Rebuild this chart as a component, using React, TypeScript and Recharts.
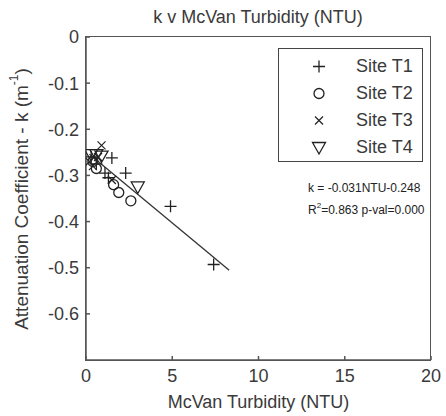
import React from 'react';
import { ScatterChart, Scatter, XAxis, YAxis, Legend } from 'recharts';

const siteT1 = [
  { x: 0.3, y: -0.26 }, { x: 0.6, y: -0.275 }, { x: 1.5, y: -0.262 }, { x: 1.1, y: -0.295 },
  { x: 1.3, y: -0.305 }, { x: 2.3, y: -0.295 }, { x: 4.9, y: -0.367 }, { x: 7.4, y: -0.493 },
];
const siteT2 = [
  { x: 0.4, y: -0.27 }, { x: 0.6, y: -0.285 }, { x: 1.6, y: -0.32 }, { x: 1.9, y: -0.337 }, { x: 2.6, y: -0.355 },
];
const siteT3 = [
  { x: 0.9, y: -0.235 }, { x: 0.4, y: -0.28 }, { x: 0.2, y: -0.27 }, { x: 1.5, y: -0.31 }, { x: 0.7, y: -0.26 },
];
const siteT4 = [
  { x: 0.3, y: -0.255 }, { x: 0.6, y: -0.255 }, { x: 0.9, y: -0.258 }, { x: 3.0, y: -0.325 },
];
const fitSlope = -0.031;
const fitIntercept = -0.248;
const fitRange = [0.2, 8.3];
const fitLine = fitRange.map((x) => ({ x, y: fitSlope * x + fitIntercept }));

const xDomain = [0, 20];
const yDomain = [-0.7, 0];
const xTicks = [0, 5, 10, 15, 20];
const yTicks = [0, -0.1, -0.2, -0.3, -0.4, -0.5, -0.6];
const seriesNames = ['Site T1', 'Site T2', 'Site T3', 'Site T4'];

const FONT = '"Liberation Sans", Arial, sans-serif';
const INK = '#222';
const AXIS = '#555';
const TXT = '#3a3a3a';

const Plus = ({ cx, cy }: any) => (
  <path d={`M${cx - 6},${cy}H${cx + 6}M${cx},${cy - 6}V${cy + 6}`} stroke={INK} strokeWidth={1.3} fill="none" />
);
const Circ = ({ cx, cy }: any) => <circle cx={cx} cy={cy} r={5} stroke={INK} strokeWidth={1.3} fill="none" />;
const Cross = ({ cx, cy }: any) => (
  <path d={`M${cx - 4},${cy - 4}L${cx + 4},${cy + 4}M${cx - 4},${cy + 4}L${cx + 4},${cy - 4}`} stroke={INK} strokeWidth={1.2} fill="none" />
);
const Tri = ({ cx, cy }: any) => (
  <path d={`M${cx - 6.5},${cy - 5}H${cx + 6.5}L${cx},${cy + 6.5}Z`} stroke={INK} strokeWidth={1.3} fill="none" />
);
const NoShape = () => null;

const markers = [Plus, Circ, Cross, Tri];

const LegendBox = () => (
  <div
    style={{
      position: 'absolute', left: 278, top: 48, width: 143, height: 112,
      border: '1.5px solid #444', background: '#fff', fontFamily: FONT, fontSize: 18, color: TXT,
    }}
  >
    {seriesNames.map((name, i) => {
      const M = markers[i];
      return (
        <div key={name} style={{ position: 'absolute', left: 0, top: 4 + i * 27, height: 27, width: 143 }}>
          <svg width={30} height={27} style={{ position: 'absolute', left: 25, top: 0 }}>
            <M cx={15} cy={13.5} />
          </svg>
          <span style={{ position: 'absolute', left: 77, top: 3, lineHeight: '20px' }}>{name}</span>
        </div>
      );
    })}
  </div>
);

const YLabel = () => {
  const cy = 199;
  const cx = 21;
  return (
    <text x={cx} y={cy} transform={`rotate(-90 ${cx} ${cy})`} textAnchor="middle" dominantBaseline="central"
      style={{ fontFamily: FONT, fontSize: 19, fill: TXT }}>
      Attenuation Coefficient - k (m<tspan dy={-7} fontSize={12}>-1</tspan><tspan dy={7}>)</tspan>
    </text>
  );
};

export default function App() {
  const tickStyle = { fontFamily: FONT, fontSize: 18, fill: TXT };
  return (
    <div style={{ position: 'absolute', left: 0, top: 0, width: 446, height: 416, background: '#fff' }}>
      <ScatterChart width={446} height={416} margin={{ top: 37, right: 15, left: 0, bottom: 0 }}>
        <XAxis type="number" dataKey="x" domain={xDomain} ticks={xTicks} allowDataOverflow
          height={56} tickSize={-4} tickMargin={13} stroke={AXIS} strokeWidth={1.5} tick={tickStyle}
          label={{ value: 'McVan Turbidity (NTU)', position: 'insideBottom', offset: 8, style: { fontFamily: FONT, fontSize: 18, fill: TXT } }} />
        <YAxis type="number" dataKey="y" domain={yDomain} ticks={yTicks} allowDataOverflow
          width={86} tickSize={-4} tickMargin={11} stroke={AXIS} strokeWidth={1.5} tick={tickStyle}
          label={<YLabel />} />
        <Legend content={<LegendBox />} wrapperStyle={{ position: 'absolute', left: 0, top: 0, width: 0, height: 0 }} />
        <Scatter name="fit" data={fitLine} line={{ stroke: '#333', strokeWidth: 1.3 }} shape={NoShape} legendType="none" isAnimationActive={false} />
        <Scatter name={seriesNames[0]} data={siteT1} shape={Plus} isAnimationActive={false} />
        <Scatter name={seriesNames[1]} data={siteT2} shape={Circ} isAnimationActive={false} />
        <Scatter name={seriesNames[2]} data={siteT3} shape={Cross} isAnimationActive={false} />
        <Scatter name={seriesNames[3]} data={siteT4} shape={Tri} isAnimationActive={false} />
      </ScatterChart>
      <div style={{ position: 'absolute', left: 85.25, top: 36.25, width: 346, height: 324.5, boxSizing: 'border-box', border: `1.5px solid ${AXIS}`, pointerEvents: 'none' }} />
      <div style={{ position: 'absolute', left: 0, top: 7, width: 516, textAlign: 'center', fontFamily: FONT, fontSize: 18, color: TXT, lineHeight: '20px' }}>
        k v McVan Turbidity (NTU)
      </div>
      <div style={{ position: 'absolute', left: 308, top: 177, fontFamily: FONT, fontSize: 12, color: '#222', lineHeight: '22px', whiteSpace: 'nowrap' }}>
        <div>k = -0.031NTU-0.248</div>
        <div>R<sup style={{ fontSize: 8, verticalAlign: 'top', lineHeight: '14px' }}>2</sup>=0.863 p-val=0.000</div>
      </div>
    </div>
  );
}
